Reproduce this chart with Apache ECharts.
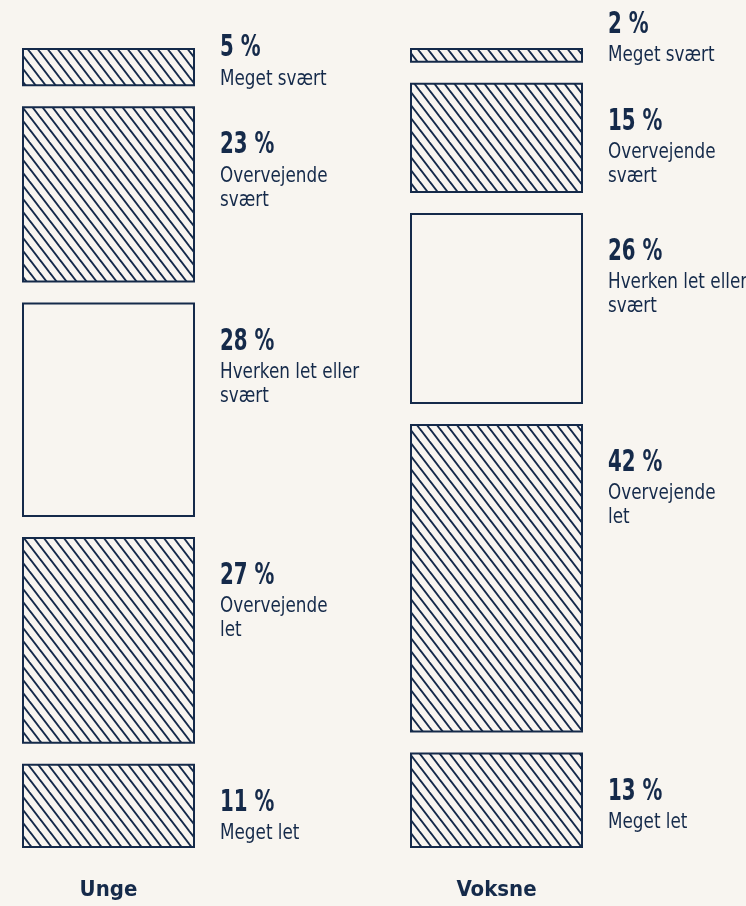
<!DOCTYPE html>
<html>
<head>
<meta charset="utf-8">
<script src="https://cdn.jsdelivr.net/npm/echarts@6/dist/echarts.min.js"></script>
<style>
html,body{margin:0;padding:0;background:#f8f5f0;}
#chart{width:746px;height:906px;}
</style>
</head>
<body>
<div id="chart"></div>
<script>
// ---- data ----
const groups = ['Unge', 'Voksne'];
const levels = ['Meget svært', 'Overvejende svært', 'Hverken let eller svært', 'Overvejende let', 'Meget let'];
const levelLines = [['Meget svært'], ['Overvejende', 'svært'], ['Hverken let eller', 'svært'], ['Overvejende', 'let'], ['Meget let']];
const ungeValues = [5, 23, 28, 27, 11];
const voksneValues = [2, 15, 26, 42, 13];
const hatched = [true, true, false, true, true];

// ---- style ----
const NAVY = '#152a4a';
const BG = '#f8f5f0';
const FONT = '"DejaVu Sans Condensed","DejaVu Sans",sans-serif';
const GRID_TOP = 48, GRID_BOTTOM = 58, CHART_H = 906;
const GAP_PX = 20;
const BAR_W = 173;
const LABEL_DX = 25;
const PCT_SIZE = 31, PCT_SCALE = 0.71;
const TXT_SIZE = 22, TXT_SCALE = 0.85;
const PCT_MID = 39, TXT_MID = 69.5, TXT_LH = 24;

function makeHatch() {
  const w = 10, h = 13;
  const c = document.createElement('canvas');
  c.width = w; c.height = h;
  const g = c.getContext('2d');
  g.fillStyle = BG; g.fillRect(0, 0, w, h);
  g.strokeStyle = NAVY; g.lineWidth = 1.9;
  for (const dx of [-w, 0, w]) {
    g.beginPath();
    g.moveTo(dx - w, -h);
    g.lineTo(dx + 2 * w, 2 * h);
    g.stroke();
  }
  return c;
}
const hatchPattern = { image: makeHatch(), repeat: 'repeat' };

const allData = [ungeValues, voksneValues];
const totals = allData.map(a => a.reduce((s, v) => s + v, 0));
const gridH = CHART_H - GRID_TOP - GRID_BOTTOM;
const barsPx = gridH - GAP_PX * (levels.length - 1);
const pxPerUnit = barsPx / 100;
const gapUnits = GAP_PX / pxPerUnit;
const yMax = 100 + gapUnits * (levels.length - 1);

const series = [];
levels.forEach((lv, i) => {
  if (i > 0) {
    series.push({
      type: 'bar', stack: 'col', name: 'gap' + i, barWidth: BAR_W, silent: true,
      itemStyle: { color: 'rgba(0,0,0,0)', borderWidth: 0 },
      data: groups.map(() => gapUnits)
    });
  }
  series.push({
    type: 'bar', stack: 'col', name: lv, barWidth: BAR_W,
    itemStyle: {
      color: hatched[i] ? hatchPattern : BG,
      borderColor: NAVY, borderWidth: 2
    },
    data: allData.map((arr, gi) => arr[i] / totals[gi] * 100)
  });
});

// label positions: [group, stackStart, stackEnd, level]
const labelData = [];
allData.forEach((arr, gi) => {
  let acc = 0;
  arr.forEach((v, li) => {
    const norm = v / totals[gi] * 100;
    labelData.push([gi, acc, acc + norm, li]);
    acc += norm + gapUnits;
  });
});

function txt(x, y, text, bold) {
  return {
    type: 'text', x: x, y: y,
    scaleX: bold ? PCT_SCALE : TXT_SCALE,
    style: {
      text: text, fill: NAVY,
      fontFamily: FONT, fontWeight: bold ? 'bold' : 'normal',
      fontSize: bold ? PCT_SIZE : TXT_SIZE,
      align: 'left', verticalAlign: 'middle'
    }
  };
}

series.push({
  type: 'custom', name: 'labels', silent: true,
  encode: { x: 0, y: [1, 2] },
  data: labelData,
  renderItem: function (params, api) {
    const gi = api.value(0), li = api.value(3);
    const p0 = api.coord([gi, api.value(1)]);
    const p1 = api.coord([gi, api.value(2)]);
    const x = p0[0] + BAR_W / 2 + LABEL_DX;
    const segTop = p0[1], segBottom = p1[1];
    const lines = levelLines[li];
    const lastBaseTop = segTop + TXT_MID + 8 + TXT_LH * (lines.length - 1);
    let pctY;
    if (lastBaseTop > segBottom) {
      const lastMid = segBottom - 7.5;
      pctY = lastMid - (TXT_MID - PCT_MID) - TXT_LH * (lines.length - 1);
    } else {
      pctY = segTop + PCT_MID;
    }
    const children = [txt(x, pctY, allData[gi][li] + ' %', true)];
    lines.forEach((l, k) => {
      children.push(txt(x, pctY + (TXT_MID - PCT_MID) + TXT_LH * k, l, false));
    });
    return { type: 'group', children: children };
  }
});

const chart = echarts.init(document.getElementById('chart'));
chart.setOption({
  backgroundColor: BG,
  animation: false,
  grid: { left: 108.5 - 194, right: 746 - (108.5 - 194 + 776), top: GRID_TOP, bottom: GRID_BOTTOM, containLabel: false, outerBoundsMode: 'none' },
  xAxis: {
    type: 'category', data: groups,
    axisLine: { show: false, onZero: false }, axisTick: { show: false },
    axisLabel: { margin: 31, fontFamily: FONT, fontWeight: 'bold', fontSize: 22, color: NAVY }
  },
  yAxis: {
    type: 'value', inverse: true, min: 0, max: yMax,
    show: false, splitLine: { show: false }
  },
  series: series
});
</script>
</body>
</html>
